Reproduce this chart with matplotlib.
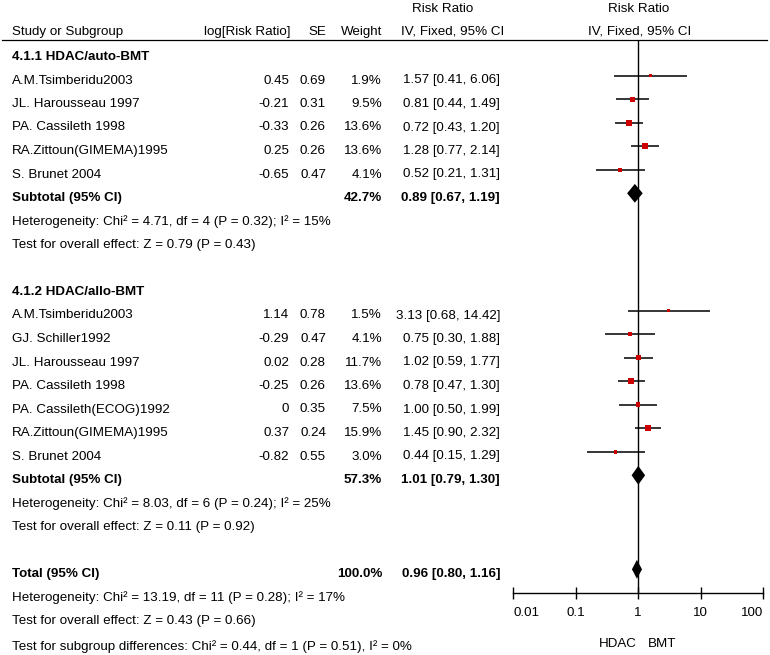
import matplotlib
matplotlib.use("Agg")
import matplotlib.pyplot as plt
import matplotlib.transforms as mtransforms
from matplotlib.ticker import NullLocator
import numpy as np

plt.rcParams['font.family'] = ['Liberation Sans', 'DejaVu Sans']

# ---------------- data ----------------
g1_title = "4.1.1 HDAC/auto-BMT"
g1_names = ["A.M.Tsimberidu2003", "JL. Harousseau 1997", "PA. Cassileth 1998",
            "RA.Zittoun(GIMEMA)1995", "S. Brunet 2004"]
g1_logrr = [0.45, -0.21, -0.33, 0.25, -0.65]
g1_se = [0.69, 0.31, 0.26, 0.26, 0.47]
g1_weight = [1.9, 9.5, 13.6, 13.6, 4.1]
g1_rr = [1.57, 0.81, 0.72, 1.28, 0.52]
g1_lo = [0.41, 0.44, 0.43, 0.77, 0.21]
g1_hi = [6.06, 1.49, 1.20, 2.14, 1.31]
g1_sub = (42.7, 0.89, 0.67, 1.19)
g1_het = "Heterogeneity: Chi² = 4.71, df = 4 (P = 0.32); I² = 15%"
g1_test = "Test for overall effect: Z = 0.79 (P = 0.43)"

g2_title = "4.1.2 HDAC/allo-BMT"
g2_names = ["A.M.Tsimberidu2003", "GJ. Schiller1992", "JL. Harousseau 1997",
            "PA. Cassileth 1998", "PA. Cassileth(ECOG)1992",
            "RA.Zittoun(GIMEMA)1995", "S. Brunet 2004"]
g2_logrr = [1.14, -0.29, 0.02, -0.25, 0, 0.37, -0.82]
g2_se = [0.78, 0.47, 0.28, 0.26, 0.35, 0.24, 0.55]
g2_weight = [1.5, 4.1, 11.7, 13.6, 7.5, 15.9, 3.0]
g2_rr = [3.13, 0.75, 1.02, 0.78, 1.00, 1.45, 0.44]
g2_lo = [0.68, 0.30, 0.59, 0.47, 0.50, 0.90, 0.15]
g2_hi = [14.42, 1.88, 1.77, 1.30, 1.99, 2.32, 1.29]
g2_sub = (57.3, 1.01, 0.79, 1.30)
g2_het = "Heterogeneity: Chi² = 8.03, df = 6 (P = 0.24); I² = 25%"
g2_test = "Test for overall effect: Z = 0.11 (P = 0.92)"

total = (100.0, 0.96, 0.80, 1.16)
tot_het = "Heterogeneity: Chi² = 13.19, df = 11 (P = 0.28); I² = 17%"
tot_test = "Test for overall effect: Z = 0.43 (P = 0.66)"
sub_test = "Test for subgroup differences: Chi² = 0.44, df = 1 (P = 0.51), I² = 0%"

xticks = [0.01, 0.1, 1, 10, 100]
xticklabels = ["0.01", "0.1", "1", "10", "100"]

# ---------------- layout ----------------
W, H = 770, 655
fig = plt.figure(figsize=(W / 100, H / 100), dpi=100)
y0, dy = 57.0, 23.5          # pixel y of row 0, row spacing
def row_of(py):
    return (py - y0) / dy

FS = 9.6

ax_left, ax_right, ax_top, ax_bot = 513, 763, 40, 593
ax = fig.add_axes([ax_left / W, 1 - ax_bot / H, (ax_right - ax_left) / W, (ax_bot - ax_top) / H])
ax.set_xscale('log')
ax.set_xlim(0.01, 100)
ax.set_ylim(row_of(ax_bot), row_of(ax_top))
ax.patch.set_alpha(0)
for s in ['top', 'left', 'right']:
    ax.spines[s].set_visible(False)
ax.spines['bottom'].set_linewidth(1.0)
ax.set_yticks([])
ax.set_xticks(xticks)
ax.set_xticklabels(xticklabels)
ax.xaxis.set_minor_locator(NullLocator())
ax.tick_params(axis='x', direction='inout', length=8.6, width=1.0, pad=6, labelsize=FS)
_tl = ax.get_xticklabels()
_tl[0].set_horizontalalignment('left')
_tl[-1].set_horizontalalignment('right')

blend = mtransforms.blended_transform_factory(fig.transFigure, ax.transData)

def put(xpx, row, s, ha='left', bold=False):
    ax.text(xpx / W, row, s, transform=blend, ha=ha, va='center', fontsize=FS,
            fontweight='bold' if bold else 'normal', color='black', clip_on=False)

COL_NAME, COL_LOG, COL_SE, COL_W, COL_RR = 12, 289, 326, 382, 500
MOFF = -0.2  # mark vertical offset relative to text rows

# header
hdr = row_of(32)
put(COL_NAME, hdr, "Study or Subgroup")
put(COL_LOG + 1, hdr, "log[Risk Ratio]", ha='right')
put(COL_SE, hdr, "SE", ha='right')
put(COL_W, hdr, "Weight", ha='right')
put(443, row_of(9), "Risk Ratio", ha='center')
put(453, hdr, "IV, Fixed, 95% CI", ha='center')
put(639, row_of(9), "Risk Ratio", ha='center')
put(640, hdr, "IV, Fixed, 95% CI", ha='center')
ax.plot([2 / W, 767 / W], [row_of(40), row_of(40)], transform=blend, color='black',
        lw=0.9, clip_on=False)

ax.axvline(1, color='black', lw=1.0, zorder=1)

def fmt(v):
    return f"{v:g}"

def study_block(start, names, logrr, se, weight, rr, lo, hi):
    for k in range(len(names)):
        r = start + k
        put(COL_NAME, r, names[k])
        put(COL_LOG, r, fmt(logrr[k]), ha='right')
        put(COL_SE, r, f"{se[k]:.2f}", ha='right')
        put(COL_W, r, f"{weight[k]:.1f}%", ha='right')
        put(COL_RR, r, f"{rr[k]:.2f} [{lo[k]:.2f}, {hi[k]:.2f}]", ha='right')
        ax.plot([lo[k], hi[k]], [r + MOFF, r + MOFF], color='black', lw=1.1, zorder=2,
                solid_capstyle='butt')
        side_px = 1.6 + 1.1 * np.sqrt(weight[k])
        ax.scatter([rr[k]], [r + MOFF], marker='s', s=(side_px * 0.72) ** 2,
                   color='#CC0000', edgecolors='none', zorder=3)

def diamond(r, est, lo, hi, half=0.4):
    rr_ = r + MOFF
    ax.fill([lo, est, hi, est], [rr_, rr_ - half, rr_, rr_ + half], color='black', zorder=4,
            lw=0)

def summary(r, label, vals):
    w, est, lo, hi = vals
    put(COL_NAME, r, label, bold=True)
    put(COL_W, r, f"{w:.1f}%", ha='right', bold=True)
    put(COL_RR, r, f"{est:.2f} [{lo:.2f}, {hi:.2f}]", ha='right', bold=True)
    diamond(r, est, lo, hi)

# group 1
put(COL_NAME, 0, g1_title, bold=True)
study_block(1, g1_names, g1_logrr, g1_se, g1_weight, g1_rr, g1_lo, g1_hi)
summary(6, "Subtotal (95% CI)", g1_sub)
put(COL_NAME, 7, g1_het)
put(COL_NAME, 8, g1_test)

# group 2
put(COL_NAME, 10, g2_title, bold=True)
study_block(11, g2_names, g2_logrr, g2_se, g2_weight, g2_rr, g2_lo, g2_hi)
summary(18, "Subtotal (95% CI)", g2_sub)
put(COL_NAME, 19, g2_het)
put(COL_NAME, 20, g2_test)

# total
summary(22, "Total (95% CI)", total)
put(COL_NAME, 23, tot_het)
put(COL_NAME, 24, tot_test)
put(COL_NAME, 25.1, sub_test)

# favours labels
ax.annotate("HDAC", xy=(1, row_of(644)), xytext=(-1, 0), textcoords='offset pixels',
            ha='right', va='center', fontsize=FS, annotation_clip=False)
ax.annotate("BMT", xy=(1, row_of(644)), xytext=(10, 0), textcoords='offset pixels',
            ha='left', va='center', fontsize=FS, annotation_clip=False)

fig.savefig("out.png", dpi=100, facecolor='white')
